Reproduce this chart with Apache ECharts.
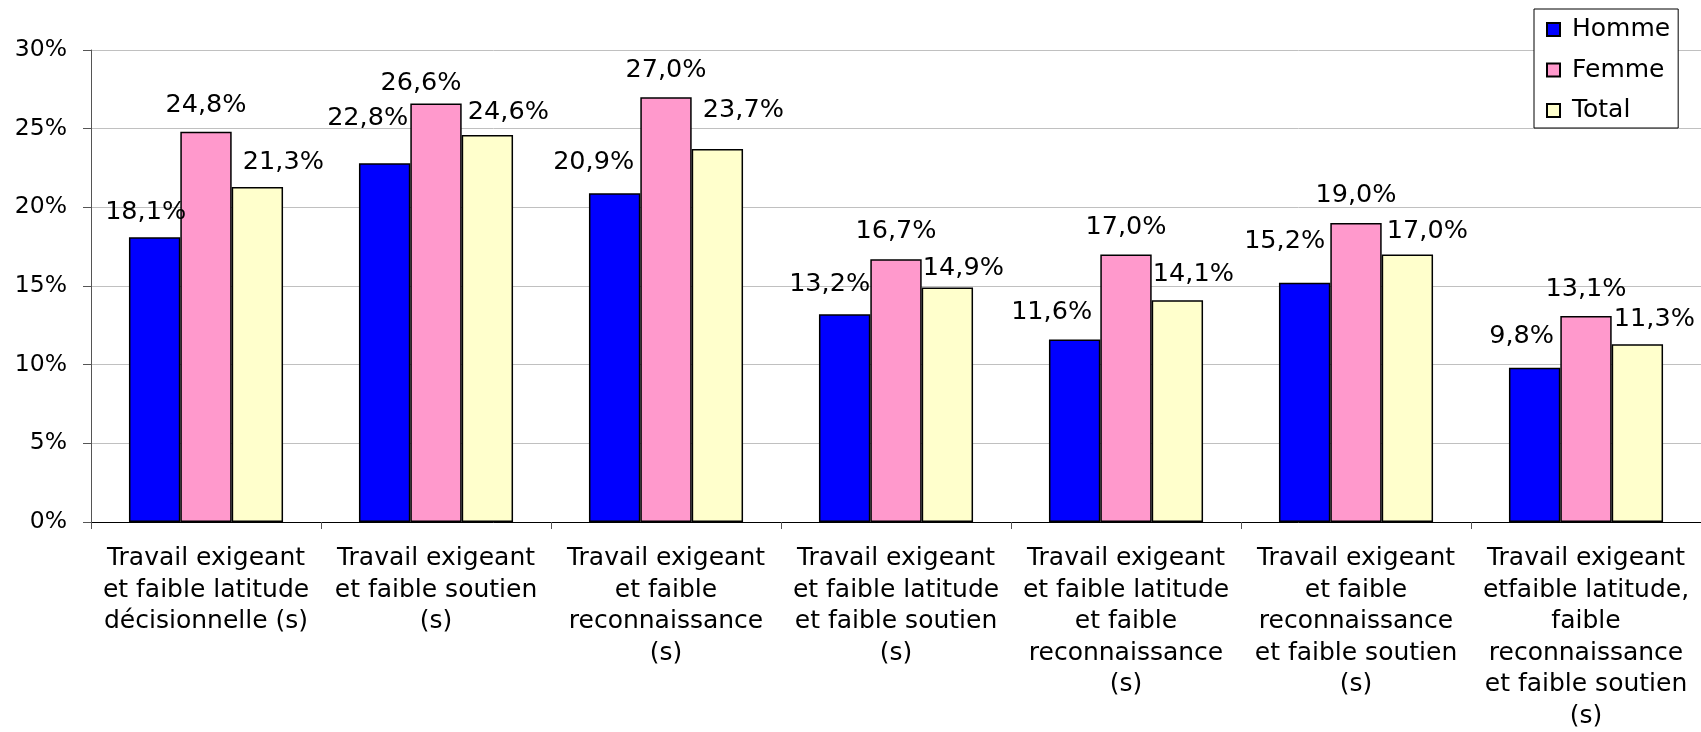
<!DOCTYPE html>
<html>
<head>
<meta charset="utf-8">
<script src="https://cdn.jsdelivr.net/npm/echarts@6/dist/echarts.min.js"></script>
<style>
html,body{margin:0;padding:0;background:#fff;}
#chart{width:1701px;height:732px;}
</style>
</head>
<body>
<div id="chart"></div>
<script>
// ---- data ----
const categories = [
  "Travail exigeant\net faible latitude\ndécisionnelle (s)",
  "Travail exigeant\net faible soutien\n(s)",
  "Travail exigeant\net faible\nreconnaissance\n(s)",
  "Travail exigeant\net faible latitude\net faible soutien\n(s)",
  "Travail exigeant\net faible latitude\net faible\nreconnaissance\n(s)",
  "Travail exigeant\net faible\nreconnaissance\net faible soutien\n(s)",
  "Travail exigeant\netfaible latitude,\nfaible\nreconnaissance\net faible soutien\n(s)"
];
const seriesNames = ["Homme", "Femme", "Total"];
const homme = [18.1, 22.8, 20.9, 13.2, 11.6, 15.2, 9.8];
const femme = [24.8, 26.6, 27.0, 16.7, 17.0, 19.0, 13.1];
const total = [21.3, 24.6, 23.7, 14.9, 14.1, 17.0, 11.3];
const yTicks = [0, 5, 10, 15, 20, 25, 30];

// ---- label nudges (style only, px) ----
const nudgeHomme = [[-9, 2], [-17, -18], [-21, -4], [-15, -3], [-23, -1], [-20, -15], [-13, -5]];
const nudgeFemme = [[0, 0], [-15, 6], [0, 0], [0, -1], [0, -1], [0, -1], [0, 0]];
const nudgeTotal = [[26, 2], [21, 4], [26, -12], [16, 7], [16, 1], [20, 3], [17, 2]];

const colors = ["#0000FF", "#FF99CC", "#FFFFCC"];
const FONT = "DejaVu Sans";

function fmt(v) { return v.toFixed(1).replace('.', ',') + '%'; }

function buildSeries(name, values, nudges, color) {
  return {
    name: name,
    type: 'bar',
    barGap: '0%',
    barCategoryGap: '33%',
    itemStyle: { color: color, borderColor: '#000', borderWidth: 1.5 },
    data: values.map((v, i) => ({
      value: v,
      label: { offset: nudges[i] }
    })),
    label: {
      show: true,
      position: 'top',
      distance: 13.5,
      fontFamily: FONT,
      fontSize: 25.5,
      color: '#000',
      formatter: p => fmt(p.value)
    }
  };
}

const chart = echarts.init(document.getElementById('chart'), null, { renderer: 'canvas' });
chart.setOption({
  animation: false,
  backgroundColor: '#fff',
  grid: { left: 91, right: -4, top: 50, bottom: 207, containLabel: false },
  legend: {
    orient: 'vertical',
    left: 1534,
    top: 9,
    data: seriesNames,
    icon: 'rect',
    itemWidth: 13,
    itemHeight: 13,
    itemGap: 15.5,
    padding: [8, 8, 5, 12],
    borderColor: '#000',
    borderWidth: 1,
    backgroundColor: '#fff',
    textStyle: { fontFamily: FONT, fontSize: 25, color: '#000', padding: [0, 0, 0, 7] }
  },
  xAxis: {
    type: 'category',
    data: categories,
    axisLine: { lineStyle: { color: '#000', width: 1 } },
    axisTick: { show: true, length: 7, lineStyle: { color: '#555' } },
    axisLabel: {
      interval: 0,
      margin: 21,
      fontFamily: FONT,
      fontSize: 25,
      lineHeight: 31.5,
      color: '#000',
      align: 'center'
    }
  },
  yAxis: {
    type: 'value',
    min: yTicks[0],
    max: yTicks[yTicks.length - 1],
    interval: 5,
    axisLine: { show: true, lineStyle: { color: '#555', width: 1 } },
    axisTick: { show: true, length: 8, lineStyle: { color: '#555' } },
    splitLine: { show: true, lineStyle: { color: '#c0c0c0', width: 1 } },
    axisLabel: {
      margin: 24,
      fontFamily: FONT,
      fontSize: 23.5,
      color: '#000',
      formatter: '{value}%'
    }
  },
  series: [
    buildSeries(seriesNames[0], homme, nudgeHomme, colors[0]),
    buildSeries(seriesNames[1], femme, nudgeFemme, colors[1]),
    buildSeries(seriesNames[2], total, nudgeTotal, colors[2])
  ]
});
</script>
</body>
</html>
